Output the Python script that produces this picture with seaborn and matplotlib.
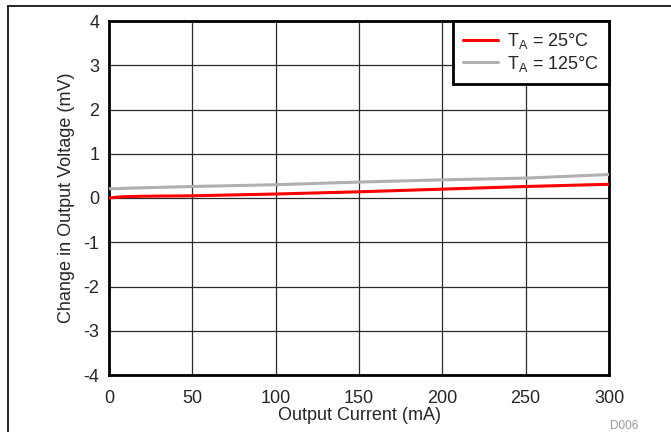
import pandas as pd
import seaborn as sns
import matplotlib.pyplot as plt
from matplotlib.lines import Line2D

# values
current_ma = [0, 5, 10, 20, 50, 100, 150, 200, 250, 300]
dv_25c = [0.0, 0.02, 0.03, 0.04, 0.05, 0.09, 0.14, 0.20, 0.26, 0.31]
dv_125c = [0.21, 0.21, 0.22, 0.23, 0.26, 0.30, 0.36, 0.41, 0.45, 0.53]
series_names = ['T$_\\mathrm{A}$ = 25°C', 'T$_\\mathrm{A}$ = 125°C']
x_ticks = [0, 50, 100, 150, 200, 250, 300]
y_ticks = [-4, -3, -2, -1, 0, 1, 2, 3, 4]

df = pd.concat([
    pd.DataFrame({'current': current_ma, 'dv': dv_25c, 'temp': series_names[0]}),
    pd.DataFrame({'current': current_ma, 'dv': dv_125c, 'temp': series_names[1]}),
])

sns.set_style('white')
plt.rcParams['font.family'] = ['Liberation Sans', 'DejaVu Sans']
plt.rcParams['mathtext.fontset'] = 'custom'
plt.rcParams['mathtext.rm'] = 'Liberation Sans'
plt.rcParams['axes.unicode_minus'] = False

fig = plt.figure(figsize=(6.71, 4.32), dpi=100)
ax = fig.add_axes([109 / 671, 1 - 375 / 432, 500 / 671, 354 / 432])

sns.lineplot(data=df, x='current', y='dv', hue='temp', ax=ax,
             palette={series_names[0]: '#ff0000', series_names[1]: '#b0b0b0'},
             linewidth=2.2, legend=False, zorder=3)

ax.set_xlim(0, 300)
ax.set_ylim(-4, 4)
ax.set_xticks(x_ticks)
ax.set_yticks(y_ticks)
ax.grid(True, color='#2a2a2a', linewidth=0.9)
ax.tick_params(length=0, labelsize=13)
ax.tick_params(axis='x', pad=11)
ax.tick_params(axis='y', pad=7)
for s in ax.spines.values():
    s.set_visible(True)
    s.set_color('black')
    s.set_linewidth(2)
ax.set_xlabel('Output Current (mA)', fontsize=13, labelpad=0)
ax.set_ylabel('Change in Output Voltage (mV)', fontsize=13, labelpad=6)

handles = [Line2D([], [], color='#ff0000', lw=2.2),
           Line2D([], [], color='#b0b0b0', lw=2.2)]
leg = ax.legend(handles, series_names, loc='upper right', fontsize=13,
                frameon=True, fancybox=False, framealpha=1, borderaxespad=0,
                handlelength=1.95, handletextpad=0.5, labelspacing=0.15,
                borderpad=0.55)
leg.get_frame().set_edgecolor('black')
leg.get_frame().set_linewidth(2)

# outer frame lines and figure id
fig.add_artist(Line2D([8 / 671, 1], [1 - 6 / 432, 1 - 6 / 432], color='black', lw=1.2))
fig.add_artist(Line2D([8 / 671, 8 / 671], [0, 1 - 6 / 432], color='black', lw=1.2))
fig.text(638 / 671, 1 - 426 / 432, 'D006', fontsize=8.5, color='#999999',
         ha='right', va='center')

fig.savefig('out.png', dpi=100)
